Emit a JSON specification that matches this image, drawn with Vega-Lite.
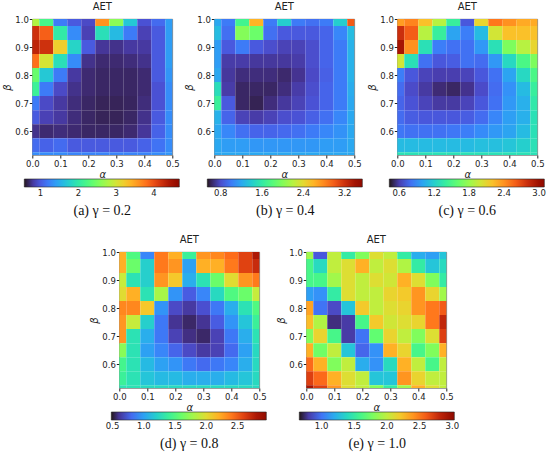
{
  "$schema": "https://vega.github.io/schema/vega-lite/v6.json",
  "background": "white",
  "padding": {"left": 2, "top": 1, "right": 0, "bottom": 0},
  "datasets": {
    "g02": [
      {"a":0,"b":1,"v":2.8},{"a":0.05,"b":1,"v":2.2},{"a":0.1,"b":1,"v":1.2},{"a":0.15,"b":1,"v":1.0},{"a":0.2,"b":1,"v":0.9},{"a":0.25,"b":1,"v":3.6},{"a":0.3,"b":1,"v":2.6},{"a":0.35,"b":1,"v":1.7},{"a":0.4,"b":1,"v":0.95},{"a":0.45,"b":1,"v":1.1},{"a":0.5,"b":1,"v":1.4},
      {"a":0,"b":0.95,"v":4.2},{"a":0.05,"b":0.95,"v":3.9},{"a":0.1,"b":0.95,"v":2.0},{"a":0.15,"b":0.95,"v":1.3},{"a":0.2,"b":0.95,"v":0.85},{"a":0.25,"b":0.95,"v":1.9},{"a":0.3,"b":0.95,"v":1.6},{"a":0.35,"b":0.95,"v":1.2},{"a":0.4,"b":0.95,"v":0.85},{"a":0.45,"b":0.95,"v":1.0},{"a":0.5,"b":0.95,"v":1.4},
      {"a":0,"b":0.9,"v":4.3},{"a":0.05,"b":0.9,"v":4.2},{"a":0.1,"b":0.9,"v":3.2},{"a":0.15,"b":0.9,"v":1.8},{"a":0.2,"b":0.9,"v":1.0},{"a":0.25,"b":0.9,"v":0.78},{"a":0.3,"b":0.9,"v":0.75},{"a":0.35,"b":0.9,"v":0.8},{"a":0.4,"b":0.9,"v":0.8},{"a":0.45,"b":0.9,"v":1.0},{"a":0.5,"b":0.9,"v":1.4},
      {"a":0,"b":0.85,"v":3.8},{"a":0.05,"b":0.85,"v":3.0},{"a":0.1,"b":0.85,"v":1.9},{"a":0.15,"b":0.85,"v":1.3},{"a":0.2,"b":0.85,"v":0.75},{"a":0.25,"b":0.85,"v":0.7},{"a":0.3,"b":0.85,"v":0.7},{"a":0.35,"b":0.85,"v":0.72},{"a":0.4,"b":0.85,"v":0.75},{"a":0.45,"b":0.85,"v":1.0},{"a":0.5,"b":0.85,"v":1.4},
      {"a":0,"b":0.8,"v":2.4},{"a":0.05,"b":0.8,"v":1.7},{"a":0.1,"b":0.8,"v":1.2},{"a":0.15,"b":0.8,"v":0.8},{"a":0.2,"b":0.8,"v":0.7},{"a":0.25,"b":0.8,"v":0.68},{"a":0.3,"b":0.8,"v":0.68},{"a":0.35,"b":0.8,"v":0.68},{"a":0.4,"b":0.8,"v":0.7},{"a":0.45,"b":0.8,"v":1.0},{"a":0.5,"b":0.8,"v":1.35},
      {"a":0,"b":0.75,"v":2.1},{"a":0.05,"b":0.75,"v":1.2},{"a":0.1,"b":0.75,"v":0.9},{"a":0.15,"b":0.75,"v":0.75},{"a":0.2,"b":0.75,"v":0.7},{"a":0.25,"b":0.75,"v":0.68},{"a":0.3,"b":0.75,"v":0.68},{"a":0.35,"b":0.75,"v":0.68},{"a":0.4,"b":0.75,"v":0.7},{"a":0.45,"b":0.75,"v":0.95},{"a":0.5,"b":0.75,"v":1.3},
      {"a":0,"b":0.7,"v":1.2},{"a":0.05,"b":0.7,"v":0.9},{"a":0.1,"b":0.7,"v":0.8},{"a":0.15,"b":0.7,"v":0.72},{"a":0.2,"b":0.7,"v":0.68},{"a":0.25,"b":0.7,"v":0.66},{"a":0.3,"b":0.7,"v":0.66},{"a":0.35,"b":0.7,"v":0.67},{"a":0.4,"b":0.7,"v":0.72},{"a":0.45,"b":0.7,"v":0.95},{"a":0.5,"b":0.7,"v":1.3},
      {"a":0,"b":0.65,"v":1.0},{"a":0.05,"b":0.65,"v":0.85},{"a":0.1,"b":0.65,"v":0.8},{"a":0.15,"b":0.65,"v":0.72},{"a":0.2,"b":0.65,"v":0.68},{"a":0.25,"b":0.65,"v":0.66},{"a":0.3,"b":0.65,"v":0.66},{"a":0.35,"b":0.65,"v":0.68},{"a":0.4,"b":0.65,"v":0.75},{"a":0.45,"b":0.65,"v":1.0},{"a":0.5,"b":0.65,"v":1.3},
      {"a":0,"b":0.6,"v":0.75},{"a":0.05,"b":0.6,"v":0.7},{"a":0.1,"b":0.6,"v":0.72},{"a":0.15,"b":0.6,"v":0.7},{"a":0.2,"b":0.6,"v":0.68},{"a":0.25,"b":0.6,"v":0.68},{"a":0.3,"b":0.6,"v":0.68},{"a":0.35,"b":0.6,"v":0.7},{"a":0.4,"b":0.6,"v":0.78},{"a":0.45,"b":0.6,"v":1.05},{"a":0.5,"b":0.6,"v":1.3},
      {"a":0,"b":0.55,"v":1.1},{"a":0.05,"b":0.55,"v":1.05},{"a":0.1,"b":0.55,"v":1.1},{"a":0.15,"b":0.55,"v":1.0},{"a":0.2,"b":0.55,"v":1.0},{"a":0.25,"b":0.55,"v":1.0},{"a":0.3,"b":0.55,"v":1.0},{"a":0.35,"b":0.55,"v":1.0},{"a":0.4,"b":0.55,"v":1.05},{"a":0.45,"b":0.55,"v":1.15},{"a":0.5,"b":0.55,"v":1.3},
      {"a":0,"b":0.5,"v":1.3},{"a":0.05,"b":0.5,"v":1.3},{"a":0.1,"b":0.5,"v":1.3},{"a":0.15,"b":0.5,"v":1.25},{"a":0.2,"b":0.5,"v":1.25},{"a":0.25,"b":0.5,"v":1.25},{"a":0.3,"b":0.5,"v":1.25},{"a":0.35,"b":0.5,"v":1.25},{"a":0.4,"b":0.5,"v":1.25},{"a":0.45,"b":0.5,"v":1.3},{"a":0.5,"b":0.5,"v":1.35}
    ],
    "g04": [
      {"a":0,"b":1,"v":1.2},{"a":0.05,"b":1,"v":1.0},{"a":0.1,"b":1,"v":1.7},{"a":0.15,"b":1,"v":2.6},{"a":0.2,"b":1,"v":1.0},{"a":0.25,"b":1,"v":1.4},{"a":0.3,"b":1,"v":1.0},{"a":0.35,"b":1,"v":0.95},{"a":0.4,"b":1,"v":1.0},{"a":0.45,"b":1,"v":1.4},{"a":0.5,"b":1,"v":3.0},
      {"a":0,"b":0.95,"v":1.3},{"a":0.05,"b":0.95,"v":0.95},{"a":0.1,"b":0.95,"v":2.0},{"a":0.15,"b":0.95,"v":1.9},{"a":0.2,"b":0.95,"v":0.95},{"a":0.25,"b":0.95,"v":0.85},{"a":0.3,"b":0.95,"v":0.85},{"a":0.35,"b":0.95,"v":0.85},{"a":0.4,"b":0.95,"v":0.9},{"a":0.45,"b":0.95,"v":1.05},{"a":0.5,"b":0.95,"v":1.3},
      {"a":0,"b":0.9,"v":1.15},{"a":0.05,"b":0.9,"v":0.85},{"a":0.1,"b":0.9,"v":1.0},{"a":0.15,"b":0.9,"v":0.85},{"a":0.2,"b":0.9,"v":0.8},{"a":0.25,"b":0.9,"v":0.75},{"a":0.3,"b":0.9,"v":0.75},{"a":0.35,"b":0.9,"v":0.8},{"a":0.4,"b":0.9,"v":0.9},{"a":0.45,"b":0.9,"v":1.0},{"a":0.5,"b":0.9,"v":1.25},
      {"a":0,"b":0.85,"v":1.15},{"a":0.05,"b":0.85,"v":0.72},{"a":0.1,"b":0.85,"v":0.72},{"a":0.15,"b":0.85,"v":0.7},{"a":0.2,"b":0.85,"v":0.7},{"a":0.25,"b":0.85,"v":0.7},{"a":0.3,"b":0.85,"v":0.72},{"a":0.35,"b":0.85,"v":0.8},{"a":0.4,"b":0.85,"v":0.9},{"a":0.45,"b":0.85,"v":1.0},{"a":0.5,"b":0.85,"v":1.25},
      {"a":0,"b":0.8,"v":1.2},{"a":0.05,"b":0.8,"v":0.7},{"a":0.1,"b":0.8,"v":0.65},{"a":0.15,"b":0.8,"v":0.65},{"a":0.2,"b":0.8,"v":0.65},{"a":0.25,"b":0.8,"v":0.63},{"a":0.3,"b":0.8,"v":0.68},{"a":0.35,"b":0.8,"v":0.78},{"a":0.4,"b":0.8,"v":0.88},{"a":0.45,"b":0.8,"v":1.0},{"a":0.5,"b":0.8,"v":1.25},
      {"a":0,"b":0.75,"v":1.5},{"a":0.05,"b":0.75,"v":0.72},{"a":0.1,"b":0.75,"v":0.62},{"a":0.15,"b":0.75,"v":0.62},{"a":0.2,"b":0.75,"v":0.62},{"a":0.25,"b":0.75,"v":0.65},{"a":0.3,"b":0.75,"v":0.72},{"a":0.35,"b":0.75,"v":0.8},{"a":0.4,"b":0.75,"v":0.9},{"a":0.45,"b":0.75,"v":1.0},{"a":0.5,"b":0.75,"v":1.22},
      {"a":0,"b":0.7,"v":1.65},{"a":0.05,"b":0.7,"v":0.85},{"a":0.1,"b":0.7,"v":0.62},{"a":0.15,"b":0.7,"v":0.6},{"a":0.2,"b":0.7,"v":0.65},{"a":0.25,"b":0.7,"v":0.7},{"a":0.3,"b":0.7,"v":0.75},{"a":0.35,"b":0.7,"v":0.82},{"a":0.4,"b":0.7,"v":0.9},{"a":0.45,"b":0.7,"v":1.0},{"a":0.5,"b":0.7,"v":1.2},
      {"a":0,"b":0.65,"v":1.25},{"a":0.05,"b":0.65,"v":0.9},{"a":0.1,"b":0.65,"v":0.75},{"a":0.15,"b":0.65,"v":0.72},{"a":0.2,"b":0.65,"v":0.75},{"a":0.25,"b":0.65,"v":0.8},{"a":0.3,"b":0.65,"v":0.82},{"a":0.35,"b":0.65,"v":0.88},{"a":0.4,"b":0.65,"v":0.95},{"a":0.45,"b":0.65,"v":1.05},{"a":0.5,"b":0.65,"v":1.2},
      {"a":0,"b":0.6,"v":1.2},{"a":0.05,"b":0.6,"v":1.05},{"a":0.1,"b":0.6,"v":0.95},{"a":0.15,"b":0.6,"v":0.9},{"a":0.2,"b":0.6,"v":0.9},{"a":0.25,"b":0.6,"v":0.92},{"a":0.3,"b":0.6,"v":0.95},{"a":0.35,"b":0.6,"v":1.0},{"a":0.4,"b":0.6,"v":1.05},{"a":0.45,"b":0.6,"v":1.1},{"a":0.5,"b":0.6,"v":1.2},
      {"a":0,"b":0.55,"v":1.2},{"a":0.05,"b":0.55,"v":1.15},{"a":0.1,"b":0.55,"v":1.15},{"a":0.15,"b":0.55,"v":1.12},{"a":0.2,"b":0.55,"v":1.12},{"a":0.25,"b":0.55,"v":1.12},{"a":0.3,"b":0.55,"v":1.12},{"a":0.35,"b":0.55,"v":1.12},{"a":0.4,"b":0.55,"v":1.15},{"a":0.45,"b":0.55,"v":1.15},{"a":0.5,"b":0.55,"v":1.2},
      {"a":0,"b":0.5,"v":1.2},{"a":0.05,"b":0.5,"v":1.2},{"a":0.1,"b":0.5,"v":1.2},{"a":0.15,"b":0.5,"v":1.2},{"a":0.2,"b":0.5,"v":1.2},{"a":0.25,"b":0.5,"v":1.2},{"a":0.3,"b":0.5,"v":1.2},{"a":0.35,"b":0.5,"v":1.2},{"a":0.4,"b":0.5,"v":1.2},{"a":0.45,"b":0.5,"v":1.2},{"a":0.5,"b":0.5,"v":1.2}
    ],
    "g06": [
      {"a":0,"b":1,"v":2.35},{"a":0.05,"b":1,"v":2.45},{"a":0.1,"b":1,"v":2.2},{"a":0.15,"b":1,"v":1.9},{"a":0.2,"b":1,"v":1.4},{"a":0.25,"b":1,"v":0.7},{"a":0.3,"b":1,"v":2.1},{"a":0.35,"b":1,"v":2.5},{"a":0.4,"b":1,"v":2.4},{"a":0.45,"b":1,"v":2.3},{"a":0.5,"b":1,"v":2.3},
      {"a":0,"b":0.95,"v":2.8},{"a":0.05,"b":0.95,"v":2.6},{"a":0.1,"b":0.95,"v":1.9},{"a":0.15,"b":0.95,"v":1.4},{"a":0.2,"b":0.95,"v":1.0},{"a":0.25,"b":0.95,"v":0.85},{"a":0.3,"b":0.95,"v":1.1},{"a":0.35,"b":0.95,"v":2.0},{"a":0.4,"b":0.95,"v":2.2},{"a":0.45,"b":0.95,"v":2.2},{"a":0.5,"b":0.95,"v":2.2},
      {"a":0,"b":0.9,"v":2.95},{"a":0.05,"b":0.9,"v":2.4},{"a":0.1,"b":0.9,"v":1.3},{"a":0.15,"b":0.9,"v":0.85},{"a":0.2,"b":0.9,"v":0.8},{"a":0.25,"b":0.9,"v":0.8},{"a":0.3,"b":0.9,"v":0.95},{"a":0.35,"b":0.9,"v":1.3},{"a":0.4,"b":0.9,"v":1.7},{"a":0.45,"b":0.9,"v":1.9},{"a":0.5,"b":0.9,"v":2.1},
      {"a":0,"b":0.85,"v":2.0},{"a":0.05,"b":0.85,"v":1.3},{"a":0.1,"b":0.85,"v":0.8},{"a":0.15,"b":0.85,"v":0.7},{"a":0.2,"b":0.85,"v":0.72},{"a":0.25,"b":0.85,"v":0.8},{"a":0.3,"b":0.85,"v":0.78},{"a":0.35,"b":0.85,"v":0.95},{"a":0.4,"b":0.85,"v":1.25},{"a":0.45,"b":0.85,"v":1.5},{"a":0.5,"b":0.85,"v":1.7},
      {"a":0,"b":0.8,"v":0.85},{"a":0.05,"b":0.8,"v":0.7},{"a":0.1,"b":0.8,"v":0.62},{"a":0.15,"b":0.8,"v":0.6},{"a":0.2,"b":0.8,"v":0.6},{"a":0.25,"b":0.8,"v":0.62},{"a":0.3,"b":0.8,"v":0.7},{"a":0.35,"b":0.8,"v":0.8},{"a":0.4,"b":0.8,"v":1.0},{"a":0.45,"b":0.8,"v":1.25},{"a":0.5,"b":0.8,"v":1.5},
      {"a":0,"b":0.75,"v":0.78},{"a":0.05,"b":0.75,"v":0.65},{"a":0.1,"b":0.75,"v":0.58},{"a":0.15,"b":0.75,"v":0.52},{"a":0.2,"b":0.75,"v":0.5},{"a":0.25,"b":0.75,"v":0.55},{"a":0.3,"b":0.75,"v":0.65},{"a":0.35,"b":0.75,"v":0.78},{"a":0.4,"b":0.75,"v":0.92},{"a":0.45,"b":0.75,"v":1.1},{"a":0.5,"b":0.75,"v":1.4},
      {"a":0,"b":0.7,"v":0.75},{"a":0.05,"b":0.7,"v":0.68},{"a":0.1,"b":0.7,"v":0.62},{"a":0.15,"b":0.7,"v":0.58},{"a":0.2,"b":0.7,"v":0.58},{"a":0.25,"b":0.7,"v":0.62},{"a":0.3,"b":0.7,"v":0.7},{"a":0.35,"b":0.7,"v":0.8},{"a":0.4,"b":0.7,"v":0.95},{"a":0.45,"b":0.7,"v":1.05},{"a":0.5,"b":0.7,"v":1.35},
      {"a":0,"b":0.65,"v":0.78},{"a":0.05,"b":0.65,"v":0.72},{"a":0.1,"b":0.65,"v":0.7},{"a":0.15,"b":0.65,"v":0.7},{"a":0.2,"b":0.65,"v":0.7},{"a":0.25,"b":0.65,"v":0.72},{"a":0.3,"b":0.65,"v":0.78},{"a":0.35,"b":0.65,"v":0.88},{"a":0.4,"b":0.65,"v":0.98},{"a":0.45,"b":0.65,"v":1.05},{"a":0.5,"b":0.65,"v":1.3},
      {"a":0,"b":0.6,"v":0.82},{"a":0.05,"b":0.6,"v":0.8},{"a":0.1,"b":0.6,"v":0.8},{"a":0.15,"b":0.6,"v":0.8},{"a":0.2,"b":0.6,"v":0.82},{"a":0.25,"b":0.6,"v":0.85},{"a":0.3,"b":0.6,"v":0.9},{"a":0.35,"b":0.6,"v":0.95},{"a":0.4,"b":0.6,"v":1.0},{"a":0.45,"b":0.6,"v":1.1},{"a":0.5,"b":0.6,"v":1.3},
      {"a":0,"b":0.55,"v":1.1},{"a":0.05,"b":0.55,"v":1.1},{"a":0.1,"b":0.55,"v":1.1},{"a":0.15,"b":0.55,"v":1.1},{"a":0.2,"b":0.55,"v":1.1},{"a":0.25,"b":0.55,"v":1.1},{"a":0.3,"b":0.55,"v":1.12},{"a":0.35,"b":0.55,"v":1.12},{"a":0.4,"b":0.55,"v":1.15},{"a":0.45,"b":0.55,"v":1.2},{"a":0.5,"b":0.55,"v":1.3},
      {"a":0,"b":0.5,"v":1.3},{"a":0.05,"b":0.5,"v":1.3},{"a":0.1,"b":0.5,"v":1.3},{"a":0.15,"b":0.5,"v":1.3},{"a":0.2,"b":0.5,"v":1.3},{"a":0.25,"b":0.5,"v":1.3},{"a":0.3,"b":0.5,"v":1.3},{"a":0.35,"b":0.5,"v":1.3},{"a":0.4,"b":0.5,"v":1.3},{"a":0.45,"b":0.5,"v":1.3},{"a":0.5,"b":0.5,"v":1.3}
    ],
    "g08": [
      {"a":0,"b":1,"v":2.2},{"a":0.05,"b":1,"v":1.5},{"a":0.1,"b":1,"v":0.9},{"a":0.15,"b":1,"v":2.4},{"a":0.2,"b":1,"v":2.2},{"a":0.25,"b":1,"v":1.4},{"a":0.3,"b":1,"v":2.3},{"a":0.35,"b":1,"v":2.35},{"a":0.4,"b":1,"v":2.45},{"a":0.45,"b":1,"v":2.6},{"a":0.5,"b":1,"v":2.8},
      {"a":0,"b":0.95,"v":2.2},{"a":0.05,"b":0.95,"v":1.6},{"a":0.1,"b":0.95,"v":1.2},{"a":0.15,"b":0.95,"v":2.4},{"a":0.2,"b":0.95,"v":2.3},{"a":0.25,"b":0.95,"v":1.0},{"a":0.3,"b":0.95,"v":2.2},{"a":0.35,"b":0.95,"v":2.2},{"a":0.4,"b":0.95,"v":2.4},{"a":0.45,"b":0.95,"v":2.6},{"a":0.5,"b":0.95,"v":2.7},
      {"a":0,"b":0.9,"v":1.9},{"a":0.05,"b":0.9,"v":1.3},{"a":0.1,"b":0.9,"v":1.2},{"a":0.15,"b":0.9,"v":2.3},{"a":0.2,"b":0.9,"v":2.1},{"a":0.25,"b":0.9,"v":1.05},{"a":0.3,"b":0.9,"v":1.3},{"a":0.35,"b":0.9,"v":1.6},{"a":0.4,"b":0.9,"v":2.0},{"a":0.45,"b":0.9,"v":2.3},{"a":0.5,"b":0.9,"v":2.4},
      {"a":0,"b":0.85,"v":2.0},{"a":0.05,"b":0.85,"v":2.2},{"a":0.1,"b":0.85,"v":1.3},{"a":0.15,"b":0.85,"v":1.8},{"a":0.2,"b":0.85,"v":0.95},{"a":0.25,"b":0.85,"v":0.75},{"a":0.3,"b":0.85,"v":0.9},{"a":0.35,"b":0.85,"v":1.25},{"a":0.4,"b":0.85,"v":1.5},{"a":0.45,"b":0.85,"v":1.6},{"a":0.5,"b":0.85,"v":1.9},
      {"a":0,"b":0.8,"v":2.35},{"a":0.05,"b":0.8,"v":2.35},{"a":0.1,"b":0.8,"v":2.1},{"a":0.15,"b":0.8,"v":0.95},{"a":0.2,"b":0.8,"v":0.68},{"a":0.25,"b":0.8,"v":0.62},{"a":0.3,"b":0.8,"v":0.7},{"a":0.35,"b":0.8,"v":0.85},{"a":0.4,"b":0.8,"v":1.05},{"a":0.45,"b":0.8,"v":1.3},{"a":0.5,"b":0.8,"v":1.5},
      {"a":0,"b":0.75,"v":2.3},{"a":0.05,"b":0.75,"v":1.9},{"a":0.1,"b":0.75,"v":1.2},{"a":0.15,"b":0.75,"v":0.85},{"a":0.2,"b":0.75,"v":0.6},{"a":0.25,"b":0.75,"v":0.55},{"a":0.3,"b":0.75,"v":0.6},{"a":0.35,"b":0.75,"v":0.75},{"a":0.4,"b":0.75,"v":0.95},{"a":0.45,"b":0.75,"v":1.15},{"a":0.5,"b":0.75,"v":1.4},
      {"a":0,"b":0.7,"v":2.3},{"a":0.05,"b":0.7,"v":1.3},{"a":0.1,"b":0.7,"v":1.05},{"a":0.15,"b":0.7,"v":0.85},{"a":0.2,"b":0.7,"v":0.65},{"a":0.25,"b":0.7,"v":0.58},{"a":0.3,"b":0.7,"v":0.55},{"a":0.35,"b":0.7,"v":0.65},{"a":0.4,"b":0.7,"v":0.85},{"a":0.45,"b":0.7,"v":1.05},{"a":0.5,"b":0.7,"v":1.3},
      {"a":0,"b":0.65,"v":1.7},{"a":0.05,"b":0.65,"v":1.3},{"a":0.1,"b":0.65,"v":1.0},{"a":0.15,"b":0.65,"v":0.9},{"a":0.2,"b":0.65,"v":0.78},{"a":0.25,"b":0.65,"v":0.68},{"a":0.3,"b":0.65,"v":0.62},{"a":0.35,"b":0.65,"v":0.65},{"a":0.4,"b":0.65,"v":0.8},{"a":0.45,"b":0.65,"v":1.0},{"a":0.5,"b":0.65,"v":1.25},
      {"a":0,"b":0.6,"v":1.45},{"a":0.05,"b":0.6,"v":1.3},{"a":0.1,"b":0.6,"v":1.1},{"a":0.15,"b":0.6,"v":1.0},{"a":0.2,"b":0.6,"v":0.95},{"a":0.25,"b":0.6,"v":0.85},{"a":0.3,"b":0.6,"v":0.8},{"a":0.35,"b":0.6,"v":0.85},{"a":0.4,"b":0.6,"v":0.9},{"a":0.45,"b":0.6,"v":1.05},{"a":0.5,"b":0.6,"v":1.25},
      {"a":0,"b":0.55,"v":1.4},{"a":0.05,"b":0.55,"v":1.3},{"a":0.1,"b":0.55,"v":1.15},{"a":0.15,"b":0.55,"v":1.1},{"a":0.2,"b":0.55,"v":1.1},{"a":0.25,"b":0.55,"v":1.05},{"a":0.3,"b":0.55,"v":1.05},{"a":0.35,"b":0.55,"v":1.05},{"a":0.4,"b":0.55,"v":1.1},{"a":0.45,"b":0.55,"v":1.15},{"a":0.5,"b":0.55,"v":1.25},
      {"a":0,"b":0.5,"v":1.3},{"a":0.05,"b":0.5,"v":1.3},{"a":0.1,"b":0.5,"v":1.25},{"a":0.15,"b":0.5,"v":1.25},{"a":0.2,"b":0.5,"v":1.25},{"a":0.25,"b":0.5,"v":1.25},{"a":0.3,"b":0.5,"v":1.25},{"a":0.35,"b":0.5,"v":1.25},{"a":0.4,"b":0.5,"v":1.25},{"a":0.45,"b":0.5,"v":1.25},{"a":0.5,"b":0.5,"v":1.25}
    ],
    "g10": [
      {"a":0,"b":1,"v":1.9},{"a":0.05,"b":1,"v":0.9},{"a":0.1,"b":1,"v":2.0},{"a":0.15,"b":1,"v":1.5},{"a":0.2,"b":1,"v":1.8},{"a":0.25,"b":1,"v":2.1},{"a":0.3,"b":1,"v":2.0},{"a":0.35,"b":1,"v":1.5},{"a":0.4,"b":1,"v":1.2},{"a":0.45,"b":1,"v":1.15},{"a":0.5,"b":1,"v":1.3},
      {"a":0,"b":0.95,"v":1.6},{"a":0.05,"b":0.95,"v":1.4},{"a":0.1,"b":0.95,"v":2.0},{"a":0.15,"b":0.95,"v":2.1},{"a":0.2,"b":0.95,"v":2.3},{"a":0.25,"b":0.95,"v":2.0},{"a":0.3,"b":0.95,"v":2.1},{"a":0.35,"b":0.95,"v":1.95},{"a":0.4,"b":0.95,"v":1.5},{"a":0.45,"b":0.95,"v":1.3},{"a":0.5,"b":0.95,"v":1.4},
      {"a":0,"b":0.9,"v":1.6},{"a":0.05,"b":0.9,"v":1.6},{"a":0.1,"b":0.9,"v":1.9},{"a":0.15,"b":0.9,"v":2.1},{"a":0.2,"b":0.9,"v":2.0},{"a":0.25,"b":0.9,"v":2.1},{"a":0.3,"b":0.9,"v":2.05},{"a":0.35,"b":0.9,"v":2.3},{"a":0.4,"b":0.9,"v":2.1},{"a":0.45,"b":0.9,"v":1.8},{"a":0.5,"b":0.9,"v":1.5},
      {"a":0,"b":0.85,"v":1.15},{"a":0.05,"b":0.85,"v":1.1},{"a":0.1,"b":0.85,"v":1.5},{"a":0.15,"b":0.85,"v":2.1},{"a":0.2,"b":0.85,"v":2.0},{"a":0.25,"b":0.85,"v":2.0},{"a":0.3,"b":0.85,"v":2.15},{"a":0.35,"b":0.85,"v":2.2},{"a":0.4,"b":0.85,"v":2.4},{"a":0.45,"b":0.85,"v":2.15},{"a":0.5,"b":0.85,"v":1.9},
      {"a":0,"b":0.8,"v":2.35},{"a":0.05,"b":0.8,"v":1.0},{"a":0.1,"b":0.8,"v":0.85},{"a":0.15,"b":0.8,"v":1.3},{"a":0.2,"b":0.8,"v":2.2},{"a":0.25,"b":0.8,"v":2.0},{"a":0.3,"b":0.8,"v":2.1},{"a":0.35,"b":0.8,"v":2.15},{"a":0.4,"b":0.8,"v":2.4},{"a":0.45,"b":0.8,"v":2.5},{"a":0.5,"b":0.8,"v":2.6},
      {"a":0,"b":0.75,"v":2.25},{"a":0.05,"b":0.75,"v":1.95},{"a":0.1,"b":0.75,"v":0.75},{"a":0.15,"b":0.75,"v":0.8},{"a":0.2,"b":0.75,"v":1.6},{"a":0.25,"b":0.75,"v":2.2},{"a":0.3,"b":0.75,"v":2.05},{"a":0.35,"b":0.75,"v":2.1},{"a":0.4,"b":0.75,"v":2.15},{"a":0.45,"b":0.75,"v":2.5},{"a":0.5,"b":0.75,"v":2.8},
      {"a":0,"b":0.7,"v":1.8},{"a":0.05,"b":0.7,"v":2.15},{"a":0.1,"b":0.7,"v":1.6},{"a":0.15,"b":0.7,"v":0.8},{"a":0.2,"b":0.7,"v":1.0},{"a":0.25,"b":0.7,"v":1.7},{"a":0.3,"b":0.7,"v":2.15},{"a":0.35,"b":0.7,"v":2.0},{"a":0.4,"b":0.7,"v":1.8},{"a":0.45,"b":0.7,"v":2.1},{"a":0.5,"b":0.7,"v":2.7},
      {"a":0,"b":0.65,"v":2.3},{"a":0.05,"b":0.65,"v":1.75},{"a":0.1,"b":0.65,"v":2.0},{"a":0.15,"b":0.65,"v":1.3},{"a":0.2,"b":0.65,"v":0.95},{"a":0.25,"b":0.65,"v":1.1},{"a":0.3,"b":0.65,"v":2.3},{"a":0.35,"b":0.65,"v":2.15},{"a":0.4,"b":0.65,"v":1.6},{"a":0.45,"b":0.65,"v":1.8},{"a":0.5,"b":0.65,"v":2.3},
      {"a":0,"b":0.6,"v":2.55},{"a":0.05,"b":0.6,"v":2.3},{"a":0.1,"b":0.6,"v":1.8},{"a":0.15,"b":0.6,"v":2.0},{"a":0.2,"b":0.6,"v":1.2},{"a":0.25,"b":0.6,"v":1.1},{"a":0.3,"b":0.6,"v":1.4},{"a":0.35,"b":0.6,"v":2.3},{"a":0.4,"b":0.6,"v":2.0},{"a":0.45,"b":0.6,"v":1.6},{"a":0.5,"b":0.6,"v":2.0},
      {"a":0,"b":0.55,"v":2.7},{"a":0.05,"b":0.55,"v":2.55},{"a":0.1,"b":0.55,"v":2.3},{"a":0.15,"b":0.55,"v":2.1},{"a":0.2,"b":0.55,"v":2.0},{"a":0.25,"b":0.55,"v":1.3},{"a":0.3,"b":0.55,"v":1.3},{"a":0.35,"b":0.55,"v":2.4},{"a":0.4,"b":0.55,"v":2.15},{"a":0.45,"b":0.55,"v":2.0},{"a":0.5,"b":0.55,"v":2.0},
      {"a":0,"b":0.5,"v":2.9},{"a":0.05,"b":0.5,"v":2.7},{"a":0.1,"b":0.5,"v":2.4},{"a":0.15,"b":0.5,"v":2.1},{"a":0.2,"b":0.5,"v":2.0},{"a":0.25,"b":0.5,"v":1.8},{"a":0.3,"b":0.5,"v":1.5},{"a":0.35,"b":0.5,"v":1.9},{"a":0.4,"b":0.5,"v":2.3},{"a":0.45,"b":0.5,"v":2.1},{"a":0.5,"b":0.5,"v":2.0}
    ]
  },
  "vconcat": [
    {
      "hconcat": [
        {
          "width": 140, "height": 136, "title": "AET",
          "data": {"name": "g02"},
          "transform": [
            {"bin": {"extent": [-0.025, 0.525], "step": 0.05, "nice": false}, "field": "a", "as": ["a0", "a1"]},
            {"bin": {"extent": [0.475, 1.025], "step": 0.05, "nice": false}, "field": "b", "as": ["b0", "b1"]}
          ],
          "mark": {"type": "rect", "clip": true},
          "encoding": {
            "x": {"field": "a0", "type": "quantitative", "title": "α", "scale": {"domain": [0, 0.5], "nice": false}, "axis": {"values": [0, 0.1, 0.2, 0.3, 0.4, 0.5], "format": ".1f"}},
            "x2": {"field": "a1"},
            "y": {"field": "b0", "type": "quantitative", "title": "β", "scale": {"domain": [0.515, 1], "nice": false, "zero": false}, "axis": {"values": [0.6, 0.7, 0.8, 0.9, 1], "format": ".1f"}},
            "y2": {"field": "b1"},
            "color": {"field": "v", "type": "quantitative", "scale": {"scheme": "turbo", "domain": [0.57, 4.67]},
              "legend": {"title": "(a) γ = 0.2", "values": [1, 2, 3, 4], "format": "d", "orient": "none", "legendX": -8, "legendY": 160, "direction": "horizontal"}}
          }
        },
        {
          "width": 140, "height": 136, "title": "AET",
          "data": {"name": "g04"},
          "transform": [
            {"bin": {"extent": [-0.025, 0.525], "step": 0.05, "nice": false}, "field": "a", "as": ["a0", "a1"]},
            {"bin": {"extent": [0.475, 1.025], "step": 0.05, "nice": false}, "field": "b", "as": ["b0", "b1"]}
          ],
          "mark": {"type": "rect", "clip": true},
          "encoding": {
            "x": {"field": "a0", "type": "quantitative", "title": "α", "scale": {"domain": [0, 0.5], "nice": false}, "axis": {"values": [0, 0.1, 0.2, 0.3, 0.4, 0.5], "format": ".1f"}},
            "x2": {"field": "a1"},
            "y": {"field": "b0", "type": "quantitative", "title": "β", "scale": {"domain": [0.515, 1], "nice": false, "zero": false}, "axis": {"values": [0.6, 0.7, 0.8, 0.9, 1], "format": ".1f"}},
            "y2": {"field": "b1"},
            "color": {"field": "v", "type": "quantitative", "scale": {"scheme": "turbo", "domain": [0.54, 3.54]},
              "legend": {"title": "(b) γ = 0.4", "values": [0.8, 1.6, 2.4, 3.2], "format": ".1f", "orient": "none", "legendX": -7, "legendY": 160, "direction": "horizontal"}}
          }
        },
        {
          "width": 140, "height": 136, "title": "AET",
          "data": {"name": "g06"},
          "transform": [
            {"bin": {"extent": [-0.025, 0.525], "step": 0.05, "nice": false}, "field": "a", "as": ["a0", "a1"]},
            {"bin": {"extent": [0.475, 1.025], "step": 0.05, "nice": false}, "field": "b", "as": ["b0", "b1"]}
          ],
          "mark": {"type": "rect", "clip": true},
          "encoding": {
            "x": {"field": "a0", "type": "quantitative", "title": "α", "scale": {"domain": [0, 0.5], "nice": false}, "axis": {"values": [0, 0.1, 0.2, 0.3, 0.4, 0.5], "format": ".1f"}},
            "x2": {"field": "a1"},
            "y": {"field": "b0", "type": "quantitative", "title": "β", "scale": {"domain": [0.515, 1], "nice": false, "zero": false}, "axis": {"values": [0.6, 0.7, 0.8, 0.9, 1], "format": ".1f"}},
            "y2": {"field": "b1"},
            "color": {"field": "v", "type": "quantitative", "scale": {"scheme": "turbo", "domain": [0.43, 3.09]},
              "legend": {"title": "(c) γ = 0.6", "values": [0.6, 1.2, 1.8, 2.4, 3.0], "format": ".1f", "orient": "none", "legendX": -8, "legendY": 160, "direction": "horizontal"}}
          }
        }
      ],
      "spacing": 3,
      "resolve": {"scale": {"color": "independent"}, "legend": {"color": "independent"}}
    },
    {
      "hconcat": [
        {
          "width": 140, "height": 136, "title": "AET",
          "data": {"name": "g08"},
          "transform": [
            {"bin": {"extent": [-0.025, 0.525], "step": 0.05, "nice": false}, "field": "a", "as": ["a0", "a1"]},
            {"bin": {"extent": [0.475, 1.025], "step": 0.05, "nice": false}, "field": "b", "as": ["b0", "b1"]}
          ],
          "mark": {"type": "rect", "clip": true},
          "encoding": {
            "x": {"field": "a0", "type": "quantitative", "title": "α", "scale": {"domain": [0, 0.5], "nice": false}, "axis": {"values": [0, 0.1, 0.2, 0.3, 0.4, 0.5], "format": ".1f"}},
            "x2": {"field": "a1"},
            "y": {"field": "b0", "type": "quantitative", "title": "β", "scale": {"domain": [0.515, 1], "nice": false, "zero": false}, "axis": {"values": [0.6, 0.7, 0.8, 0.9, 1], "format": ".1f"}},
            "y2": {"field": "b1"},
            "color": {"field": "v", "type": "quantitative", "scale": {"scheme": "turbo", "domain": [0.48, 2.96]},
              "legend": {"title": "(d) γ = 0.8", "values": [0.5, 1.0, 1.5, 2.0, 2.5], "format": ".1f", "orient": "none", "legendX": -8, "legendY": 160, "direction": "horizontal"}}
          }
        },
        {
          "width": 140, "height": 136, "title": "AET",
          "data": {"name": "g10"},
          "transform": [
            {"bin": {"extent": [-0.025, 0.525], "step": 0.05, "nice": false}, "field": "a", "as": ["a0", "a1"]},
            {"bin": {"extent": [0.475, 1.025], "step": 0.05, "nice": false}, "field": "b", "as": ["b0", "b1"]}
          ],
          "mark": {"type": "rect", "clip": true},
          "encoding": {
            "x": {"field": "a0", "type": "quantitative", "title": "α", "scale": {"domain": [0, 0.5], "nice": false}, "axis": {"values": [0, 0.1, 0.2, 0.3, 0.4, 0.5], "format": ".1f"}},
            "x2": {"field": "a1"},
            "y": {"field": "b0", "type": "quantitative", "title": "β", "scale": {"domain": [0.515, 1], "nice": false, "zero": false}, "axis": {"values": [0.6, 0.7, 0.8, 0.9, 1], "format": ".1f"}},
            "y2": {"field": "b1"},
            "color": {"field": "v", "type": "quantitative", "scale": {"scheme": "turbo", "domain": [0.66, 3.03]},
              "legend": {"title": "(e) γ = 1.0", "values": [1.0, 1.5, 2.0, 2.5, 3.0], "format": ".1f", "orient": "none", "legendX": -7, "legendY": 160, "direction": "horizontal"}}
          }
        }
      ],
      "spacing": 8,
      "resolve": {"scale": {"color": "independent"}, "legend": {"color": "independent"}}
    }
  ],
  "spacing": 15,
  "center": true,
  "resolve": {"scale": {"color": "independent"}, "legend": {"color": "independent"}},
  "config": {
    "view": {"stroke": "#666666", "strokeWidth": 0.8},
    "title": {"font": "DejaVu Sans", "fontSize": 10, "fontWeight": "normal", "color": "#222222", "offset": 3},
    "axis": {
      "grid": false, "domain": false, "labelFlush": false,
      "labelFont": "DejaVu Sans", "labelFontSize": 8.5, "labelColor": "#222222", "labelPadding": 1,
      "tickColor": "#222222", "tickSize": 3,
      "titleFont": "DejaVu Sans", "titleFontSize": 10, "titleFontStyle": "italic", "titleFontWeight": "normal", "titleColor": "#222222", "titlePadding": 2
    },
    "legend": {
      "gradientLength": 155, "gradientThickness": 8,
      "gradientStrokeColor": "#222222", "gradientStrokeWidth": 0.6,
      "labelFont": "DejaVu Sans", "labelFontSize": 8.5, "labelColor": "#222222", "labelOffset": 3,
      "titleOrient": "bottom", "titleAnchor": "middle", "titlePadding": 6,
      "titleFont": "Liberation Serif", "titleFontSize": 14, "titleFontWeight": "normal", "titleColor": "#111111"
    }
  }
}
